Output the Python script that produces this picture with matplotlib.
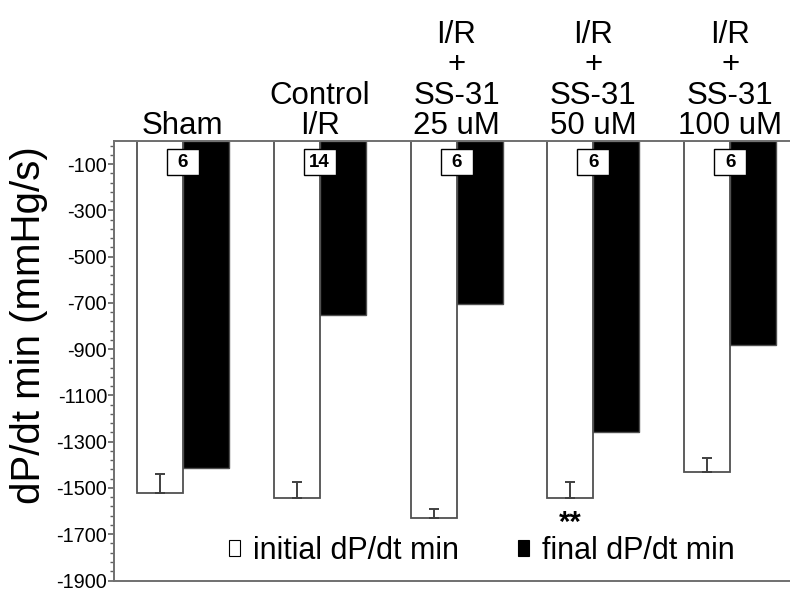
import matplotlib
matplotlib.use("Agg")
import matplotlib.pyplot as plt
import numpy as np
from matplotlib.patches import Rectangle
from matplotlib.transforms import blended_transform_factory

plt.rcParams['font.family'] = ['Liberation Sans', 'DejaVu Sans']

categories = ["Sham", "Control\nI/R", "I/R\n+\nSS-31\n25 uM", "I/R\n+\nSS-31\n50 uM", "I/R\n+\nSS-31\n100 uM"]
initial_vals = [-1522, -1545, -1631, -1543, -1431]
initial_err = [82, 71, 39, 69, 60]
final_vals = [-1412, -752, -703, -1258, -883]
n_labels = ["6", "14", "6", "6", "6"]
yticks = [-100, -300, -500, -700, -900, -1100, -1300, -1500, -1700, -1900]
legend_labels = ["initial dP/dt min", "final dP/dt min"]

fig = plt.figure(figsize=(7.9, 5.91), dpi=100)
bottom_px, top_px = 580.5, 141
ax = fig.add_axes([114/790, 1-bottom_px/591, 1-114/790, (bottom_px-top_px)/591])

x = np.arange(len(categories))
w = 0.336
edge = '#505050'
ax.bar(x - w/2, initial_vals, width=w, color='white', edgecolor=edge, linewidth=1.3, zorder=2)
ax.bar(x + w/2, final_vals, width=w, color='black', edgecolor=edge, linewidth=1.0, zorder=2)
ax.errorbar(x - w/2, initial_vals, yerr=[np.zeros(len(x)), initial_err], fmt='none',
            ecolor='#404040', elinewidth=1.4, capsize=3.4, capthick=1.4, zorder=3)

ax.set_xlim(-0.502, 4.436)
ax.set_ylim(-1900, 0)
ax.set_yticks(yticks)
ax.set_yticklabels([str(t) for t in yticks], fontsize=14.3)
ax.set_yticks(np.arange(-1900, 0, 40), minor=True)
ax.tick_params(axis='y', which='major', length=4.5, width=1.2, color='#606060', pad=0.5)
ax.tick_params(axis='y', which='minor', length=3, width=1.0, color='#606060')
ax.set_xticks([])
for s in ['left', 'bottom', 'top']:
    ax.spines[s].set_color('#707070')
    ax.spines[s].set_linewidth(1.4)
ax.spines['right'].set_visible(False)

ax.set_ylabel("dP/dt min (mmHg/s)", fontsize=29)
ax.yaxis.set_label_coords(-0.098, 0.58)

trans = blended_transform_factory(ax.transData, ax.transAxes)
for xi, lab in zip(x, categories):
    ax.text(xi, 1.0, lab, transform=trans, ha='center', va='bottom', fontsize=22.5,
            linespacing=1.02, multialignment='center')

# n boxes (fixed size, in data units: ~32 px wide, ~26 px tall)
bw, bh = 32/136.9, 26/0.2317
for xi, n in zip(x, n_labels):
    ax.add_patch(Rectangle((xi - bw/2, -92 - bh/2), bw, bh, facecolor='white',
                           edgecolor='black', linewidth=1.0, zorder=5))
    ax.text(xi, -92, n, ha='center', va='center', fontsize=13.5, fontweight='bold', zorder=6)

ax.text(x[3] - w/2, -1650, "**", ha='center', va='center', fontsize=21, fontweight='bold')

handles = [Rectangle((0, 0), 1, 1, facecolor='white', edgecolor='black', linewidth=0.8),
           Rectangle((0, 0), 1, 1, facecolor='black', edgecolor='black', linewidth=0.8)]
leg = ax.legend(handles, legend_labels, loc='center', bbox_to_anchor=(0.544, 0.068), ncol=2,
                frameon=False, fontsize=22, handlelength=0.36, handleheight=0.42,
                handletextpad=0.42, columnspacing=1.95, borderpad=0, borderaxespad=0)

fig.savefig("out.png", dpi=100)
